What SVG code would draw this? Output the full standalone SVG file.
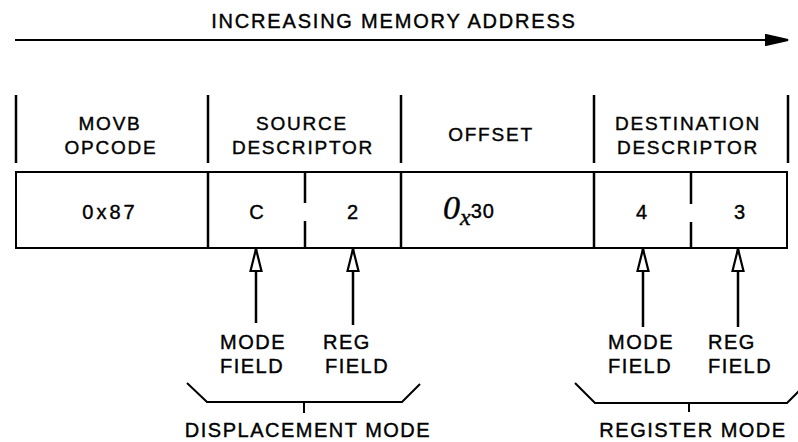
<svg xmlns="http://www.w3.org/2000/svg" width="798" height="442" viewBox="0 0 798 442">
<style>
text{font-family:"Liberation Sans",Arial,sans-serif;fill:#000;stroke:#000;stroke-width:0.4px}
.hd{font-size:19px;letter-spacing:1.8px;text-anchor:middle}
.val{font-size:20px;letter-spacing:3px;text-anchor:middle}
.lbl{font-size:20px;letter-spacing:1.5px}
.ttl{font-size:20px;letter-spacing:1.8px;text-anchor:middle}
.ln{stroke:#000;stroke-width:2;fill:none}
.tk{stroke:#000;stroke-width:2.5;fill:none}
</style>
<defs>
<marker id="hollow" viewBox="0 0 24 14" refX="23" refY="7" markerWidth="24" markerHeight="14" markerUnits="userSpaceOnUse" orient="auto">
<path d="M1,1.5 L23,7 L1,12.5 Z" fill="#fff" stroke="#000" stroke-width="2.2"/>
</marker>
<marker id="solid" viewBox="0 0 24 12" refX="23" refY="6" markerWidth="24" markerHeight="12" markerUnits="userSpaceOnUse" orient="auto">
<path d="M1,1 L23,6 L1,11 Z" fill="#000" stroke="#000" stroke-width="2"/>
</marker>
</defs>

<g id="title">
<text class="ttl" x="394" y="28">INCREASING MEMORY ADDRESS</text>
<line class="ln" x1="15" y1="40" x2="788" y2="40" marker-end="url(#solid)"/>
</g>

<g id="header">
<line class="tk" x1="16" y1="95" x2="16" y2="163"/>
<line class="tk" x1="208" y1="95" x2="208" y2="163"/>
<line class="tk" x1="401" y1="95" x2="401" y2="163"/>
<line class="tk" x1="594" y1="95" x2="594" y2="163"/>
<line class="tk" x1="788" y1="95" x2="788" y2="163"/>
</g>

<g id="opcode">
<text class="hd" x="110" y="130">MOVB</text>
<text class="hd" x="111" y="154">OPCODE</text>
<text class="val" x="110" y="219">0x87</text>
</g>

<g id="source">
<text class="hd" x="302" y="130">SOURCE</text>
<text class="hd" x="303" y="154">DESCRIPTOR</text>
<text class="val" x="258" y="219">C</text>
<text class="val" x="354" y="219">2</text>
</g>

<g id="offset">
<text class="hd" x="491" y="141">OFFSET</text>
<text x="443" y="219"><tspan font-family="Liberation Serif" font-style="italic" font-size="34">0</tspan><tspan font-family="Liberation Serif" font-style="italic" font-size="24" dy="6">x</tspan><tspan font-size="20" dy="-7" letter-spacing="1">30</tspan></text>
</g>

<g id="destination">
<text class="hd" x="688" y="130">DESTINATION</text>
<text class="hd" x="688" y="154">DESCRIPTOR</text>
<text class="val" x="643" y="219">4</text>
<text class="val" x="741" y="219">3</text>
</g>

<g id="box">
<rect class="ln" x="16" y="172" width="771" height="76"/>
<line class="tk" x1="208" y1="172" x2="208" y2="248"/>
<line class="tk" x1="401" y1="172" x2="401" y2="248"/>
<line class="tk" x1="594" y1="172" x2="594" y2="248"/>
<line class="tk" x1="305" y1="172" x2="305" y2="203"/>
<line class="tk" x1="305" y1="221" x2="305" y2="248"/>
<line class="tk" x1="691" y1="172" x2="691" y2="204"/>
<line class="tk" x1="691" y1="222" x2="691" y2="248"/>
</g>

<g id="connectors">
<line class="tk" x1="256" y1="323" x2="256" y2="249" marker-end="url(#hollow)"/>
<line class="tk" x1="353" y1="325" x2="353" y2="249" marker-end="url(#hollow)"/>
<line class="tk" x1="643" y1="327" x2="643" y2="249" marker-end="url(#hollow)"/>
<line class="tk" x1="738" y1="327" x2="738" y2="249" marker-end="url(#hollow)"/>
</g>

<g id="src-labels">
<text class="lbl" x="220" y="349">MODE</text>
<text class="lbl" x="220" y="373">FIELD</text>
<text class="lbl" x="323" y="349">REG</text>
<text class="lbl" x="325" y="373">FIELD</text>
</g>

<g id="dst-labels">
<text class="lbl" x="608" y="349">MODE</text>
<text class="lbl" x="608" y="373">FIELD</text>
<text class="lbl" x="708" y="349">REG</text>
<text class="lbl" x="708" y="373">FIELD</text>
</g>

<g id="displacement-mode">
<path class="ln" d="M187,383 L207,402 L402,402 L420,384"/>
<line class="ln" x1="304" y1="402" x2="304" y2="413"/>
<text class="lbl" x="308" y="437" text-anchor="middle">DISPLACEMENT MODE</text>
</g>

<g id="register-mode">
<path class="ln" d="M575,383 L595,403 L787,403 L800,390"/>
<line class="ln" x1="689" y1="403" x2="689" y2="412"/>
<text class="lbl" x="693" y="437" text-anchor="middle">REGISTER MODE</text>
</g>
</svg>
